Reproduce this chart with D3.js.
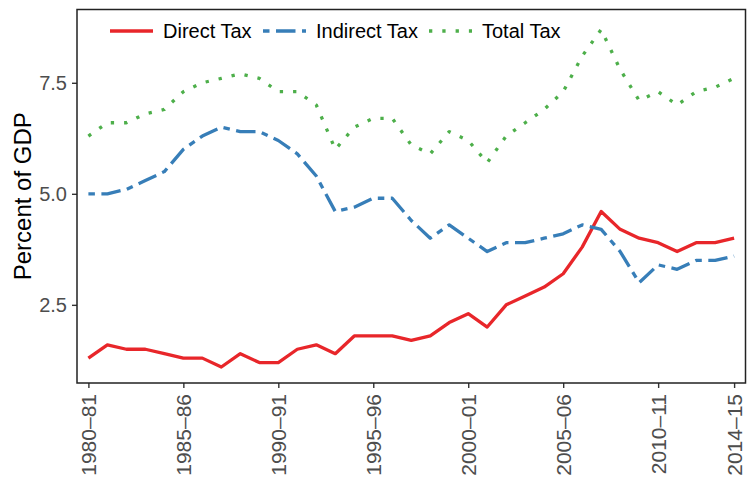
<!DOCTYPE html>
<html>
<head>
<meta charset="utf-8">
<script src="https://cdn.jsdelivr.net/npm/d3@7"></script>
<style>
  body { margin: 0; background: #fff; }
  svg { font-family: "Liberation Sans", Arial, sans-serif; }
</style>
</head>
<body>
<svg id="chart" width="751" height="483"></svg>
<script>
// fiscal years 1980-81 ... 2014-15
const years = d3.range(1980, 2015).map(function(y) {
  return y + "\u2013" + String((y + 1) % 100).padStart(2, "0");
});
const tickYears = ["1980\u201381", "1985\u201386", "1990\u201391", "1995\u201396",
                   "2000\u201301", "2005\u201306", "2010\u201311", "2014\u201315"];
const yTicks = [2.5, 5.0, 7.5];

const directTax = [1.3, 1.6, 1.5, 1.5, 1.4, 1.3, 1.3, 1.1, 1.4, 1.2, 1.2, 1.5, 1.6, 1.4, 1.8,
                   1.8, 1.8, 1.7, 1.8, 2.1, 2.3, 2.0, 2.5, 2.7, 2.9, 3.2, 3.8, 4.6, 4.2, 4.0,
                   3.9, 3.7, 3.9, 3.9, 4.0];
const indirectTax = [5.0, 5.0, 5.1, 5.3, 5.5, 6.0, 6.3, 6.5, 6.4, 6.4, 6.2, 5.9, 5.4, 4.6, 4.7,
                     4.9, 4.9, 4.4, 4.0, 4.3, 4.0, 3.7, 3.9, 3.9, 4.0, 4.1, 4.3, 4.2, 3.7, 3.0,
                     3.4, 3.3, 3.5, 3.5, 3.6];
const totalTax = [6.3, 6.6, 6.6, 6.8, 6.9, 7.3, 7.5, 7.6, 7.7, 7.6, 7.3, 7.3, 7.0, 6.0, 6.5,
                  6.7, 6.7, 6.1, 5.9, 6.4, 6.2, 5.7, 6.3, 6.6, 6.9, 7.3, 8.1, 8.7, 7.8, 7.1,
                  7.3, 7.0, 7.3, 7.4, 7.6];

const seriesNames = ["Direct Tax", "Indirect Tax", "Total Tax"];
const seriesValues = [directTax, indirectTax, totalTax];
const colors = ["#E8262A", "#377EB8", "#4DAF4A"];
const dashes = [null, "6.5,6.5,19.5,6.5", "3.3,10"];

const svg = d3.select("#chart");
const margin = {top: 9.5, right: 5.5, bottom: 100, left: 77};
const width = 751 - margin.left - margin.right,
      height = 483 - margin.top - margin.bottom;
const g = svg.append("g")
  .attr("transform", "translate(" + margin.left + "," + margin.top + ")");

const x = d3.scalePoint().domain(years).range([0, width]).padding(0.6);
const y = d3.scaleLinear().domain([0.74, 9.15]).range([height, 0]);

// lines
const line = d3.line()
  .x(function(d, i) { return x(years[i]); })
  .y(function(d) { return y(d); });

seriesValues.forEach(function(vals, k) {
  g.append("path")
    .attr("d", line(vals))
    .attr("fill", "none")
    .attr("stroke", colors[k])
    .attr("stroke-width", 3.3)
    .attr("stroke-linejoin", "round")
    .attr("stroke-dasharray", dashes[k]);
});

// axes
const xAxis = g.append("g")
  .attr("transform", "translate(0," + height + ")")
  .call(d3.axisBottom(x).tickValues(tickYears).tickSize(5).tickSizeOuter(0));
xAxis.select(".domain").remove();
xAxis.selectAll("line").attr("stroke", "#333").attr("stroke-width", 1.4);
xAxis.selectAll("text")
  .attr("fill", "#4d4d4d")
  .style("font-size", "21px")
  .attr("text-anchor", "end")
  .attr("transform", "rotate(-90)")
  .attr("x", -11)
  .attr("y", 0)
  .attr("dy", "0.35em");

const yAxis = g.append("g")
  .call(d3.axisLeft(y).tickValues(yTicks).tickFormat(d3.format(".1f")).tickSize(5).tickPadding(5));
yAxis.select(".domain").remove();
yAxis.selectAll("line").attr("stroke", "#333").attr("stroke-width", 1.4);
yAxis.selectAll("text")
  .attr("fill", "#4d4d4d")
  .style("font-size", "20px");

// panel border
g.append("rect")
  .attr("width", width)
  .attr("height", height)
  .attr("fill", "none")
  .attr("stroke", "#222")
  .attr("stroke-width", 1.5);

// y title
svg.append("text")
  .attr("transform", "translate(31," + (margin.top + height / 2) + ") rotate(-90)")
  .attr("text-anchor", "middle")
  .style("font-size", "24px")
  .attr("fill", "#000")
  .text("Percent of GDP");

// legend
const legendX = [110, 263, 429];
const legend = svg.append("g").attr("transform", "translate(0,31)");
seriesNames.forEach(function(name, k) {
  const item = legend.append("g").attr("transform", "translate(" + legendX[k] + ",0)");
  item.append("line")
    .attr("x1", 0).attr("x2", 43)
    .attr("stroke", colors[k])
    .attr("stroke-width", 3.3)
    .attr("stroke-dasharray", dashes[k]);
  item.append("text")
    .attr("x", 53)
    .attr("dy", "0.35em")
    .style("font-size", "20px")
    .attr("fill", "#000")
    .text(name);
});
</script>
</body>
</html>
